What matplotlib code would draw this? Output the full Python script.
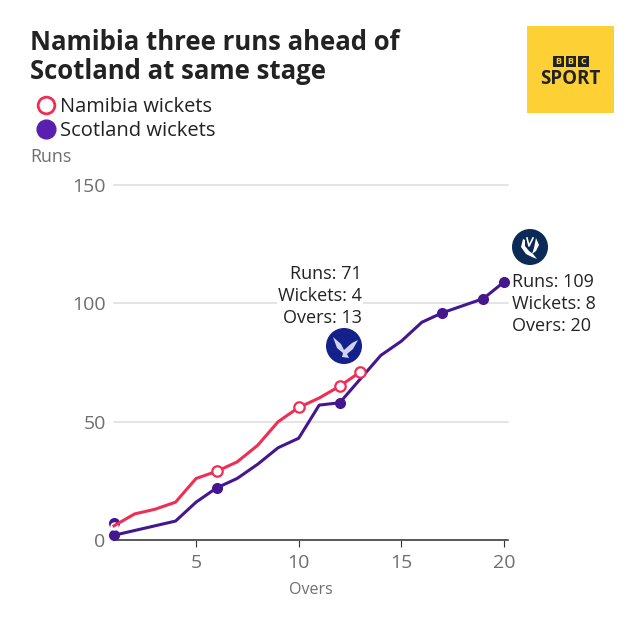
import numpy as np
import matplotlib
matplotlib.use("Agg")
import matplotlib.pyplot as plt
from matplotlib.patches import Rectangle, Circle, Polygon

plt.rcParams['font.family'] = ['Open Sans', 'Noto Sans', 'DejaVu Sans']

namibia_overs = [1, 2, 3, 4, 5, 6, 7, 8, 9, 10, 11, 12, 13]
namibia_runs = [6, 11, 13, 16, 26, 29, 33, 40, 50, 56, 60, 65, 71]
scotland_overs = list(range(1, 21))
scotland_runs = [2, 4, 6, 8, 16, 22, 26, 32, 39, 43, 57, 58, 68, 78, 84, 92, 96, 99, 102, 109]
namibia_wkt_overs = [6, 10, 12, 13]
namibia_wkt_runs = [29, 56, 65, 71]
scotland_wkt_overs = [1, 1, 6, 12, 17, 19, 20]
scotland_wkt_runs = [2, 7, 22, 58, 96, 102, 109]
y_ticks = [0, 50, 100, 150]
x_ticks = [5, 10, 15, 20]

red = "#ee2e55"
purple = "#45178f"
legend_purple = "#5a1fae"
grey = "#6e6e6e"
dark = "#222222"

W = 640.0


def px(x, y):
    return x / W, 1 - y / W


fig = plt.figure(figsize=(6.4, 6.4), dpi=100)
ax = fig.add_axes([114 / W, 1 - 540 / W, (508 - 114) / W, (540 - 185) / W])
ax.set_xlim(1, 20.2)
ax.set_ylim(0, 150)
for s in ["top", "right", "left"]:
    ax.spines[s].set_visible(False)
ax.spines["bottom"].set_color("#333333")
ax.spines["bottom"].set_linewidth(1.1)
ax.set_yticks(y_ticks)
ax.set_xticks(x_ticks)
ax.tick_params(axis="y", length=0, pad=6, labelsize=14, labelcolor=grey)
ax.tick_params(axis="x", length=5, width=0.8, color="#333333", pad=5, labelsize=14, labelcolor=grey)
ax.grid(axis="y", color="#dddddd", lw=1.1, clip_on=False)
ax.set_axisbelow(True)

ax.plot(scotland_overs, scotland_runs, color=purple, lw=2.2, solid_joinstyle="round", zorder=3, clip_on=False)
ax.plot(scotland_wkt_overs, scotland_wkt_runs, "o", color=purple, ms=8, mew=0, zorder=4, clip_on=False)
# white centre of the first over dot sits under the namibia line
ax.plot(namibia_overs[:1], namibia_runs[:1], "o", mfc="white", mew=0, ms=6, zorder=4.5, clip_on=False)
ax.plot(namibia_overs, namibia_runs, color=red, lw=2.2, solid_joinstyle="round", zorder=5, clip_on=False)
ax.plot(namibia_wkt_overs, namibia_wkt_runs, "o", mfc="white", mec=red, mew=1.6, ms=7.5, zorder=6, clip_on=False)

# header
fig.text(*px(30, 43), "Namibia three runs ahead of", fontsize=18.5, fontweight="bold", color=dark, va="center", ha="left")
fig.text(*px(30, 71.5), "Scotland at same stage", fontsize=18.5, fontweight="bold", color=dark, va="center", ha="left")

# legend
fig.add_artist(plt.Line2D([45.5 / W], [1 - 105 / W], marker="o", mfc="white", mec=red, mew=2, ms=12, ls=""))
fig.add_artist(plt.Line2D([45.5 / W], [1 - 129 / W], marker="o", color=legend_purple, ms=13.5, ls=""))
fig.text(*px(60, 107), "Namibia wickets", fontsize=14.4, color=dark, va="center", ha="left")
fig.text(*px(60, 131), "Scotland wickets", fontsize=14.5, color=dark, va="center", ha="left")
fig.text(*px(30, 157), "Runs", fontsize=12.8, color=grey, va="center", ha="left")
fig.text(*px(311, 590), "Overs", fontsize=11.5, color=grey, va="center", ha="center")

# end of innings notes
note_a = ["Runs: 71", "Wickets: 4", "Overs: 13"]
note_b = ["Runs: 109", "Wickets: 8", "Overs: 20"]
for i, t in enumerate(note_a):
    fig.text(*px(362, 274 + 22 * i), t, fontsize=13, color=dark, va="center", ha="right",
             bbox=dict(fc="white", ec="none", pad=0.5), zorder=8)
for i, t in enumerate(note_b):
    fig.text(*px(512, 282 + 22 * i), t, fontsize=13, color=dark, va="center", ha="left",
             bbox=dict(fc="white", ec="none", pad=0.5), zorder=8)

# whole figure overlay in pixels for logos
ov = fig.add_axes([0, 0, 1, 1], zorder=10)
ov.set_xlim(0, 640)
ov.set_ylim(640, 0)
ov.axis("off")
ov.patch.set_alpha(0)

# bbc sport block
ov.add_patch(Rectangle((527, 26), 87, 87, fc="#fdd135", ec="none"))
for bx in [553, 565.5, 578]:
    ov.add_patch(Rectangle((bx, 56), 10.5, 10.5, fc="#222222", ec="none"))
for bx, c in zip([553, 565.5, 578], "BBC"):
    ov.text(bx + 5.25, 61, c, fontsize=6.5, fontweight="bold", color="#fdd135", ha="center", va="center")
ov.text(570.5, 79, "SPORT", fontsize=13.5, fontweight="bold", color="#222222", ha="center", va="center")

# namibia badge, rough eagle
ov.add_patch(Circle((344, 346), 18, fc="#15218a", ec="none"))
ov.add_patch(Polygon([(333, 337), (341, 344), (344, 350), (352, 343), (358, 340), (353, 349), (347, 354),
                      (349, 358), (342, 357), (343, 353), (337, 348)], fc="#cfd3ee", ec="none"))

# scotland badge, rough thistle
ov.add_patch(Circle((530, 247), 18, fc="#0b2a55", ec="none"))
th = np.array([[-7, -8], [-9, 0], [-4, 7], [2, 10], [7, 12], [3, 7], [-1, 4], [-5, -1], [-5, -7]])
ov.add_patch(Polygon(th + [530, 247], fc="white", ec="none"))
th2 = np.array([[6, -9], [9, -2], [6, 4], [2, 7], [4, 1], [5, -4]])
ov.add_patch(Polygon(th2 + [530, 247], fc="white", ec="none"))
ov.plot([527, 529, 533], [238, 246, 238], color="white", lw=1.2)

fig.savefig("out.png", dpi=100)
